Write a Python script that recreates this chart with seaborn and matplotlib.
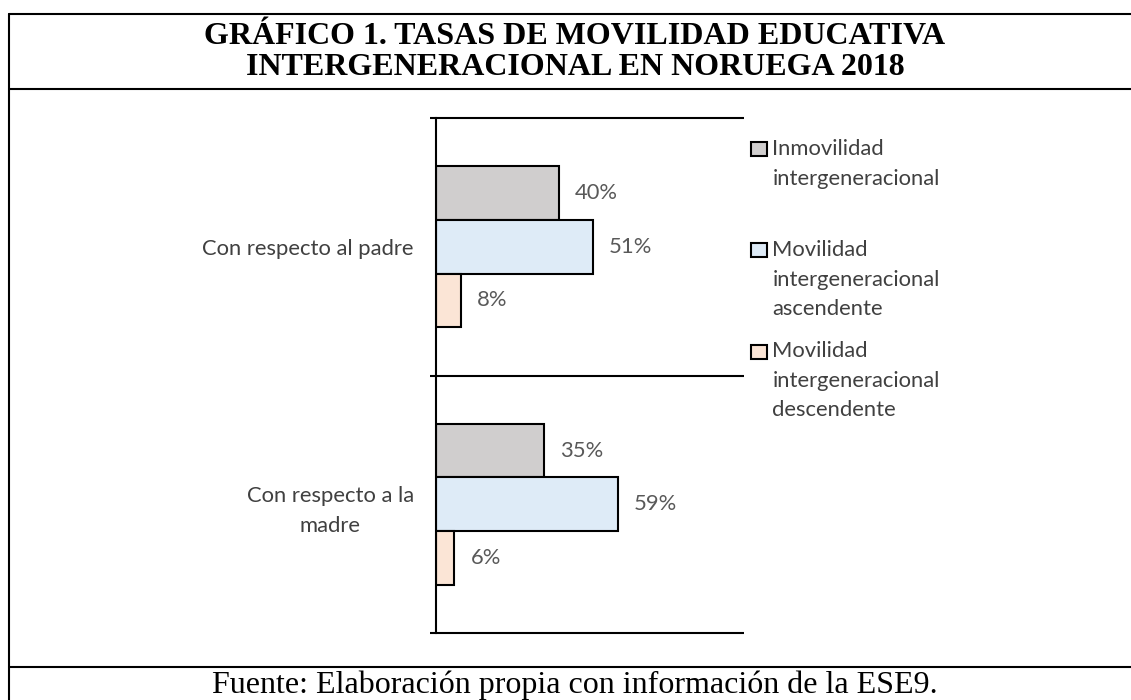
import numpy as np
import pandas as pd
import matplotlib
matplotlib.use("Agg")
import matplotlib.pyplot as plt
import seaborn as sns
from matplotlib.lines import Line2D
from matplotlib.patches import Patch

# datos
categorias = ["Con respecto al padre", "Con respecto a la\nmadre"]
series = ["Inmovilidad\nintergeneracional\n",
          "Movilidad\nintergeneracional\nascendente",
          "Movilidad\nintergeneracional\ndescendente"]
padre = [0.40, 0.51, 0.08]
madre = [0.35, 0.59, 0.06]
colores = ["#D0CECE", "#DEEBF7", "#FBE5D6"]

titulo_1 = "GRÁFICO 1. TASAS DE MOVILIDAD EDUCATIVA"
titulo_2 = "INTERGENERACIONAL EN NORUEGA 2018"
fuente = "Fuente: Elaboración propia con información de la ESE9."

df = pd.DataFrame({
    "categoria": np.repeat(categorias, len(series)),
    "serie": series * len(categorias),
    "valor": padre + madre,
})

sns.set_theme(style="white")
plt.rcParams["font.family"] = ["Lato", "DejaVu Sans"]

W, H = 1131, 700
DPI = 100
FS = 15.8
LS = 1.6
fig = plt.figure(figsize=(W / DPI, H / DPI), dpi=DPI)


def fx(px):
    return px / W


def fy(py):
    return 1 - py / H


ax = fig.add_axes([fx(436), fy(633), fx(744) - fx(436), fy(118) - fy(633)])
sns.barplot(data=df, y="categoria", x="valor", hue="serie", palette=colores,
            orient="h", width=0.625, edgecolor="black", linewidth=1.5,
            saturation=1, errorbar=None, ax=ax)
ax.get_legend().remove()

for cont in ax.containers:
    ax.bar_label(cont, labels=[f"{v * 100:.0f}%" for v in cont.datavalues],
                 padding=11.5, fontsize=FS, color="#595959")

ax.set_xlim(0, 1)
ax.set_ylim(len(categorias) - 0.5, -0.5)
ax.set_xticks([])
ax.set_xlabel("")
ax.set_ylabel("")
for s in ["top", "right", "bottom"]:
    ax.spines[s].set_visible(False)
ax.spines["left"].set_color("black")
ax.spines["left"].set_linewidth(1.5)

# lineas entre categorias
bordes = np.arange(len(categorias) + 1) - 0.5
ax.hlines(bordes, 0, 1, color="black", lw=1.5, clip_on=False)
ax.set_yticks(bordes, minor=True)
ax.tick_params(axis="y", which="minor", left=True, length=4.5, width=1.5,
               color="black", direction="out")
ax.tick_params(axis="y", which="major", length=0, pad=16, labelsize=FS,
               labelcolor="#404040")
for t in ax.get_yticklabels():
    t.set_multialignment("center")
    t.set_linespacing(LS)

handles = [Patch(facecolor=c, edgecolor="black", lw=1.5) for c in colores]
leg = fig.legend(handles, series, loc="upper left",
                 bbox_to_anchor=(fx(751), fy(139)), bbox_transform=fig.transFigure,
                 frameon=False, fontsize=FS, handlelength=0.72, handleheight=0.6,
                 handletextpad=0.25, labelspacing=1.0, borderpad=0,
                 borderaxespad=0, labelcolor="#404040")
for t in leg.get_texts():
    t.set_linespacing(LS)

# subir el cuadro de la leyenda a la primera linea del texto
fig.canvas.draw()
renderer = fig.canvas.get_renderer()
_, lh, ld = renderer.get_text_width_height_descent(
    "lp", leg.get_texts()[0].get_fontproperties(), ismath=False)
paso = ld + LS * (lh - ld)
for t, p in zip(leg.get_texts(), leg.get_patches()):
    n = len(t.get_text().split("\n"))
    p.set_y(p.get_y() + (n - 2) * paso * 72 / DPI)

# titulo y fuente
serif = ["Liberation Serif", "DejaVu Serif"]
fig.text(fx(575), fy(44), titulo_1, ha="center", va="baseline", family=serif,
         fontweight="bold", fontsize=23, color="black")
fig.text(fx(575), fy(75), titulo_2, ha="center", va="baseline", family=serif,
         fontweight="bold", fontsize=23, color="black")
fig.text(fx(575), fy(693), fuente, ha="center", va="baseline", family=serif,
         fontsize=23, color="black")

# marco
lw = 1.5
for xs, ys in [((9, W), (14, 14)), ((9, 9), (14, H)), ((9, W), (89, 89)),
               ((9, W), (667, 667))]:
    fig.add_artist(Line2D([fx(x) for x in xs], [fy(y) for y in ys], color="black",
                          lw=lw, transform=fig.transFigure))

fig.savefig("out.png", dpi=DPI)
